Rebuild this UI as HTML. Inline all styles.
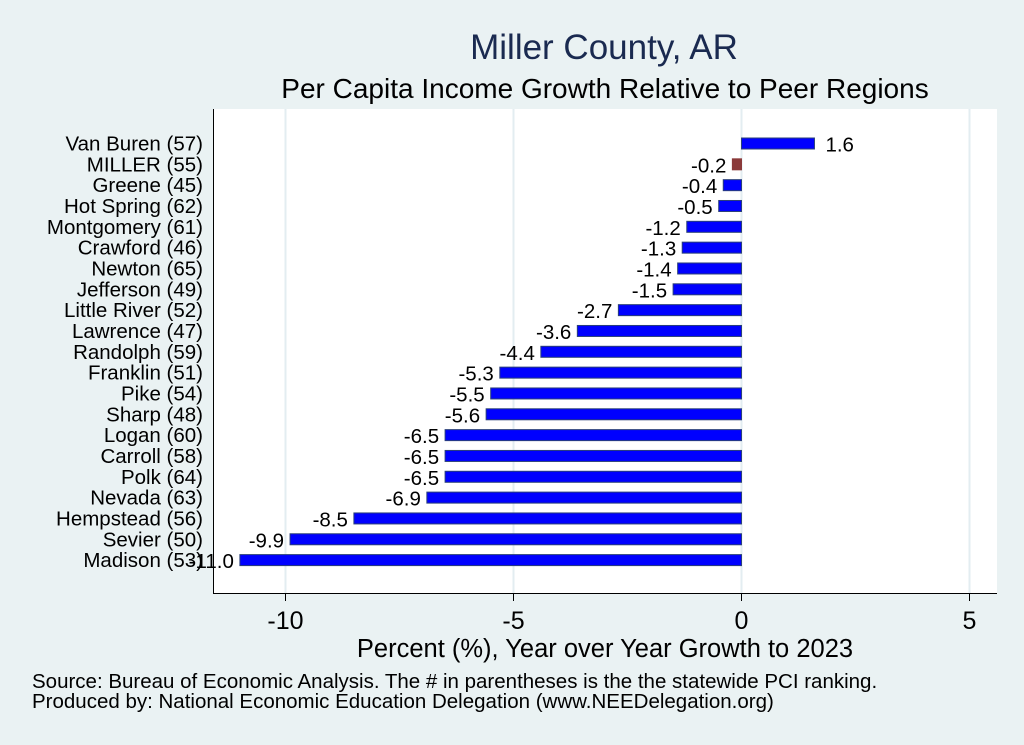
<!DOCTYPE html>
<html><head><meta charset="utf-8"><style>
body{margin:0;background:#eaf2f3;}
svg{display:block;font-family:"Liberation Sans",Arial,sans-serif;}
</style></head><body>
<svg id="c" width="1024" height="745">
<rect width="1024" height="745" fill="#eaf2f3"/>
<rect x="213" y="109" width="784" height="484" fill="#fff"/>
<text x="604" y="59" font-size="35" fill="#1a2a50" text-anchor="middle">Miller County, AR</text>
<text x="605" y="98" font-size="28" fill="#000" text-anchor="middle">Per Capita Income Growth Relative to Peer Regions</text>
<text x="605" y="657" font-size="25.5" fill="#000" text-anchor="middle">Percent (%), Year over Year Growth to 2023</text>
<text x="32" y="688" font-size="20.5" fill="#000">Source: Bureau of Economic Analysis. The # in parentheses is the the statewide PCI ranking.</text>
<text x="32" y="708" font-size="20.5" fill="#000">Produced by: National Economic Education Delegation (www.NEEDelegation.org)</text>
<g id="grid"></g><g id="bars"></g><g id="labels"></g><g id="axes"></g>
</svg>
<script>
const categories=["Van Buren (57)","MILLER (55)","Greene (45)","Hot Spring (62)","Montgomery (61)","Crawford (46)","Newton (65)","Jefferson (49)","Little River (52)","Lawrence (47)","Randolph (59)","Franklin (51)","Pike (54)","Sharp (48)","Logan (60)","Carroll (58)","Polk (64)","Nevada (63)","Hempstead (56)","Sevier (50)","Madison (53)"];
const values=[1.6,-0.2,-0.4,-0.5,-1.2,-1.3,-1.4,-1.5,-2.7,-3.6,-4.4,-5.3,-5.5,-5.6,-6.5,-6.5,-6.5,-6.9,-8.5,-9.9,-11.0];
const xTicks=[-10,-5,0,5];
const NS="http://www.w3.org/2000/svg";
const x=v=>741.5+v*45.6;
const y=i=>143.5+i*20.83;
function mk(tag,attrs,parent,text){const e=document.createElementNS(NS,tag);for(const k in attrs)e.setAttribute(k,attrs[k]);if(text!==undefined)e.textContent=text;document.getElementById(parent).appendChild(e);return e;}
xTicks.forEach(t=>{
 const g=mk('line',{x1:x(t),x2:x(t),y1:109,y2:593,stroke:'#e3edf1','stroke-width':2},'grid');
 
 
 const tk=mk('line',{x1:x(t),x2:x(t),y1:593,y2:601,stroke:'#000','stroke-width':1},'axes');
 
 
 const tl=mk('text',{x:x(t),y:629,'font-size':25,'text-anchor':'middle'},'axes',String(t));
 
 
});
categories.forEach((c,i)=>{
 const v=values[i];const x0=Math.min(x(0),x(v));const w=Math.abs(x(v)-x(0));
 const miller=c.startsWith('MILLER');
 const r=mk('rect',{x:x0,y:y(i)-5.5,width:w,height:11,fill:miller?'#8b3a3a':'#0000ff',stroke:miller?'#8b3a3a':'#2a3f7a','stroke-width':1},'bars');
 
 
 const vl=mk('text',{x:v<0?x(v)-6:x(v)+11,y:y(i)+8,'font-size':20.5,'text-anchor':v<0?'end':'start'},'labels',v.toFixed(1));
 
 
 const cl=mk('text',{x:203,y:y(i)+7,'font-size':20.5,'text-anchor':'end'},'axes',c);
 
 
});
const ax=mk('path',{d:'M213.5 109 V593.5 H997',fill:'none',stroke:'#000','stroke-width':1},'axes');


</script>
</body></html>
